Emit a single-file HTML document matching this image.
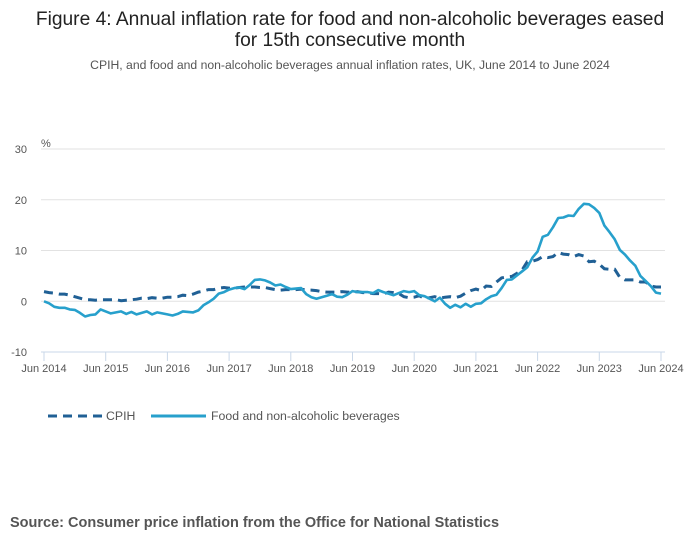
<!DOCTYPE html>
<html><head><meta charset="utf-8"><style>
body{margin:0;background:#fff;font-family:"Liberation Sans",sans-serif;}
#wrap{position:relative;width:700px;height:549px;overflow:hidden;}
</style></head><body>
<div id="wrap">
<svg id="chart" width="700" height="549">
<text x="350" y="25" text-anchor="middle" font-size="19.2" fill="#222">Figure 4: Annual inflation rate for food and non-alcoholic beverages eased</text>
<text x="350" y="46" text-anchor="middle" font-size="19.2" fill="#222">for 15th consecutive month</text>
<text x="350" y="69" text-anchor="middle" font-size="12.2" fill="#555">CPIH, and food and non-alcoholic beverages annual inflation rates, UK, June 2014 to June 2024</text>
<text x="41" y="147" font-size="11" fill="#555">%</text>
<g id="grid"></g><g id="xaxis"></g><g id="series"></g>
<g>
<line x1="48" y1="416" x2="102" y2="416" stroke="#206095" stroke-width="3" stroke-dasharray="9,6"/>
<text x="106" y="420" font-size="12.3" fill="#555">CPIH</text>
<line x1="151" y1="416" x2="206" y2="416" stroke="#27a0cc" stroke-width="3"/>
<text x="211" y="420" font-size="12.3" fill="#555">Food and non-alcoholic beverages</text>
</g>
<text x="10" y="527" font-size="14.5" font-weight="bold" fill="#555">Source: Consumer price inflation from the Office for National Statistics</text>
</svg>
</div>
<script>
const yTicks=[30,20,10,0,-10];
const xTickLabels=["Jun 2014","Jun 2015","Jun 2016","Jun 2017","Jun 2018","Jun 2019","Jun 2020","Jun 2021","Jun 2022","Jun 2023","Jun 2024"];
const cpih=[1.9,1.7,1.6,1.4,1.4,1.2,0.9,
0.6,0.3,0.3,0.2,0.3,0.3,0.3,0.3,0.1,0.2,0.3,0.4,
0.6,0.5,0.7,0.6,0.6,0.8,0.8,0.9,1.2,1.1,1.4,1.8,
2.0,2.3,2.3,2.6,2.7,2.6,2.6,2.7,2.8,2.8,2.8,2.7,
2.7,2.5,2.3,2.2,2.3,2.3,2.3,2.4,2.2,2.2,2.1,1.9,
1.8,1.8,1.8,1.9,1.8,1.8,1.9,1.7,1.7,1.5,1.5,1.4,
1.8,1.7,1.5,0.9,0.7,0.8,1.1,0.5,0.7,0.9,0.6,0.8,
0.9,0.7,1.0,1.6,2.1,2.4,2.1,3.0,2.9,3.8,4.6,4.8,
4.9,5.5,6.2,7.8,7.9,8.2,8.8,8.6,8.8,9.6,9.3,9.2,
8.8,9.2,8.9,7.8,7.9,7.3,6.4,6.3,6.3,4.7,4.2,4.2,
4.2,3.8,3.8,3.0,2.8,2.8];
const food=[0.0,-0.4,-1.1,-1.3,-1.3,-1.6,-1.7,
-2.3,-3.0,-2.7,-2.6,-1.6,-2.0,-2.4,-2.2,-2.0,-2.5,-2.1,-2.6,
-2.3,-2.0,-2.6,-2.2,-2.4,-2.6,-2.8,-2.5,-2.0,-2.1,-2.2,-1.8,
-0.8,-0.2,0.5,1.5,1.8,2.3,2.6,2.7,2.4,3.2,4.2,4.3,
4.1,3.7,3.1,3.3,2.8,2.4,2.5,2.6,1.4,0.8,0.5,0.8,
1.1,1.4,0.9,0.8,1.3,2.0,1.8,1.8,1.8,1.6,2.2,1.8,
1.5,1.2,1.6,2.0,1.8,2.0,1.2,1.0,0.5,0.0,0.7,-0.5,
-1.3,-0.7,-1.2,-0.5,-1.1,-0.5,-0.4,0.4,1.0,1.3,2.6,4.2,
4.3,5.1,5.9,6.7,8.6,9.8,12.7,13.1,14.6,16.4,16.5,16.9,
16.8,18.2,19.2,19.1,18.4,17.4,14.9,13.6,12.2,10.1,9.2,8.0,
7.0,5.0,4.0,3.0,1.7,1.5];
const NS="http://www.w3.org/2000/svg";
const x0=44,x1=661,yTop=149,yBot=352,vMax=30,vMin=-10;
function xScale(i){return x0+(x1-x0)*i/120;}
function yScale(v){return yTop+(vMax-v)*(yBot-yTop)/(vMax-vMin);}
function mk(tag,attrs,parent){const e=document.createElementNS(NS,tag);for(const k in attrs)e.setAttribute(k,attrs[k]);parent.appendChild(e);return e;}
const grid=document.getElementById('grid');
yTicks.forEach(v=>{
  const l=mk('line',{x1:41,x2:665,y1:yScale(v),y2:yScale(v),stroke:v===-10?'#c9d7e8':'#e2e2e2','stroke-width':1},grid);
  
  
  const t=mk('text',{x:27,y:yScale(v)+4,'text-anchor':'end','font-size':11,fill:'#555'},grid);
  t.textContent=v;
  
  
});
const xa=document.getElementById('xaxis');
xTickLabels.forEach((s,k)=>{
  const x=xScale(k*12);
  const l=mk('line',{x1:x,x2:x,y1:352,y2:361,stroke:'#c9d7e8','stroke-width':1},xa);
  
  
  const t=mk('text',{x:x,y:372,'text-anchor':'middle','font-size':11,fill:'#555'},xa);
  t.textContent=s;
  
  
});
const sg=document.getElementById('series');
function pathOf(arr){return arr.map((v,i)=>(i?'L':'M')+xScale(i).toFixed(1)+','+yScale(v).toFixed(1)).join('');}
const pc=mk('path',{d:pathOf(cpih),fill:'none',stroke:'#206095','stroke-width':3,'stroke-dasharray':'9,6'},sg);


const pf=mk('path',{d:pathOf(food),fill:'none',stroke:'#27a0cc','stroke-width':2.6,'stroke-linejoin':'round'},sg);


</script>
</body></html>
